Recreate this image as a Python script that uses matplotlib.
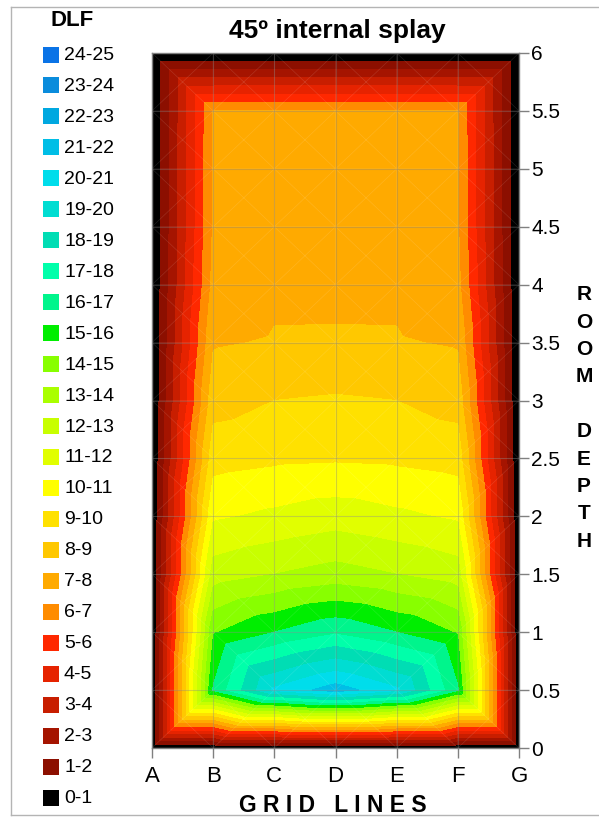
"""DLF contour - 45 deg internal splay"""

import matplotlib.pyplot as plt
import matplotlib.tri as mtri
import numpy as np
from matplotlib.lines import Line2D
from matplotlib.patches import Rectangle

plt.rcParams["font.family"] = ["Liberation Sans", "DejaVu Sans"]

grid_lines = ["A", "B", "C", "D", "E", "F", "G"]
depth = [0, 0.5, 1, 1.5, 2, 2.5, 3, 3.5, 4, 4.5, 5, 5.5, 6]

# DLF, depth 0 -> 6
dlf_A = [0, 0, 0, 0, 0, 0, 0, 0, 0, 0, 0, 0, 0]
dlf_B = [0, 16.1, 14.9, 12.5, 10.85, 9.6, 8.6, 7.9, 7.3, 7.1, 7.1, 7.02, 0]
dlf_C = [0, 20.2, 16.0, 13.0, 11.2, 9.8, 9.0, 8.08, 7.8, 7.6, 7.5, 7.05, 0]
dlf_D = [0, 21.5, 16.85, 13.4, 11.53, 9.87, 9.1, 8.09, 7.8, 7.6, 7.5, 7.05, 0]
dlf_E = [0, 20.2, 16.0, 13.0, 11.2, 9.8, 9.0, 8.08, 7.8, 7.6, 7.5, 7.05, 0]
dlf_F = [0, 16.1, 14.9, 12.5, 10.85, 9.6, 8.6, 7.9, 7.3, 7.1, 7.1, 7.02, 0]
dlf_G = [0, 0, 0, 0, 0, 0, 0, 0, 0, 0, 0, 0, 0]

band_labels = ["%d-%d" % (i, i + 1) for i in range(25)]
band_colors = [
    "#000000", "#8c0f00", "#a51400", "#c81e00", "#e62300",
    "#ff2800", "#ff8c00", "#ffaa00", "#ffc800", "#ffe100",
    "#ffff00", "#e1ff00", "#c8ff00", "#aaff00", "#88ff00",
    "#00ee00", "#00f58c", "#00ffaa", "#00ddb4", "#00ddd2",
    "#00ddeb", "#00bee6", "#00a8e0", "#0a8cdc", "#0a73e6",
]

W, H = 599, 817
fig = plt.figure(figsize=(W / 100, H / 100), dpi=100)
ax = fig.add_axes([152 / W, 1 - 748 / H, 367 / W, 695 / H])

# surface drawn like Excel: each cell cut in 4 triangles round its centre
z = np.array([dlf_A, dlf_B, dlf_C, dlf_D, dlf_E, dlf_F, dlf_G]).T
nx, ny = len(grid_lines), len(depth)
xs, ys = np.meshgrid(np.arange(nx), depth)
px, py, pz = list(xs.ravel()), list(ys.ravel()), list(z.ravel())
triangles = []
for j in range(ny - 1):
    for i in range(nx - 1):
        k00 = j * nx + i
        k10, k01, k11 = k00 + 1, k00 + nx, k00 + nx + 1
        cell = z[j:j + 2, i:i + 2]
        c = len(px)
        px.append(i + 0.5)
        py.append((depth[j] + depth[j + 1]) / 2)
        pz.append((cell.max() + cell.min()) / 2)
        triangles += [[k00, k10, c], [k10, k11, c], [k11, k01, c], [k01, k00, c]]
tri = mtri.Triangulation(px, py, triangles)

ax.tricontourf(tri, pz, levels=np.arange(26), colors=band_colors)
ax.triplot(tri, color="white", lw=0.5, alpha=0.12)

ax.set_xlim(0, 6)
ax.set_ylim(0, 6)
ax.set_xticks(range(nx))
ax.set_xticklabels(grid_lines, fontsize=16)
ax.set_yticks(depth)
ax.set_yticklabels(["%g" % d for d in depth], fontsize=15)
ax.yaxis.tick_right()
ax.tick_params(axis="both", colors="#808080", labelcolor="black", length=7, width=1)
ax.tick_params(axis="x", pad=6)
ax.tick_params(axis="y", pad=2)
ax.set_axisbelow(False)
ax.grid(True, color="#808080", alpha=0.35, lw=0.8)
for s in ax.spines.values():
    s.set_color("#808080")
    s.set_linewidth(1)

fig.text(337 / W, 1 - 31 / H, "45º internal splay", ha="center", va="center",
         fontsize=19, fontweight="bold")
fig.text(584 / W, 1 - 418 / H, "R\nO\nO\nM\n\nD\nE\nP\nT\nH", ha="center",
         va="center", fontsize=15, fontweight="bold", linespacing=1.56)
fig.text(333 / W, 1 - 806 / H, "G R I D   L I N E S", ha="center", va="center",
         fontsize=16.5, fontweight="bold")

# legend column
fig.text(72 / W, 1 - 21 / H, "DLF", ha="center", va="center", fontsize=16,
         fontweight="bold")
for k in range(25):
    band = 24 - k
    yc = 54.5 + k * 30.96
    fig.patches.append(Rectangle((43 / W, 1 - (yc + 8) / H), 16 / W, 16 / H,
                                 facecolor=band_colors[band], edgecolor="none",
                                 transform=fig.transFigure))
    fig.text(64 / W, 1 - (yc + 1) / H, band_labels[band], ha="left", va="center",
             fontsize=14)

# chart area border
bc = "#b4b4b4"
fig.lines.append(Line2D([11 / W, 1], [1 - 7 / H, 1 - 7 / H], color=bc, lw=1,
                        transform=fig.transFigure))
fig.lines.append(Line2D([11 / W, 11 / W], [1 - 7 / H, 1 - 815 / H], color=bc, lw=1,
                        transform=fig.transFigure))
fig.lines.append(Line2D([11 / W, 1], [1 - 815 / H, 1 - 815 / H], color=bc, lw=1,
                        transform=fig.transFigure))

fig.savefig("out.png", dpi=100)
